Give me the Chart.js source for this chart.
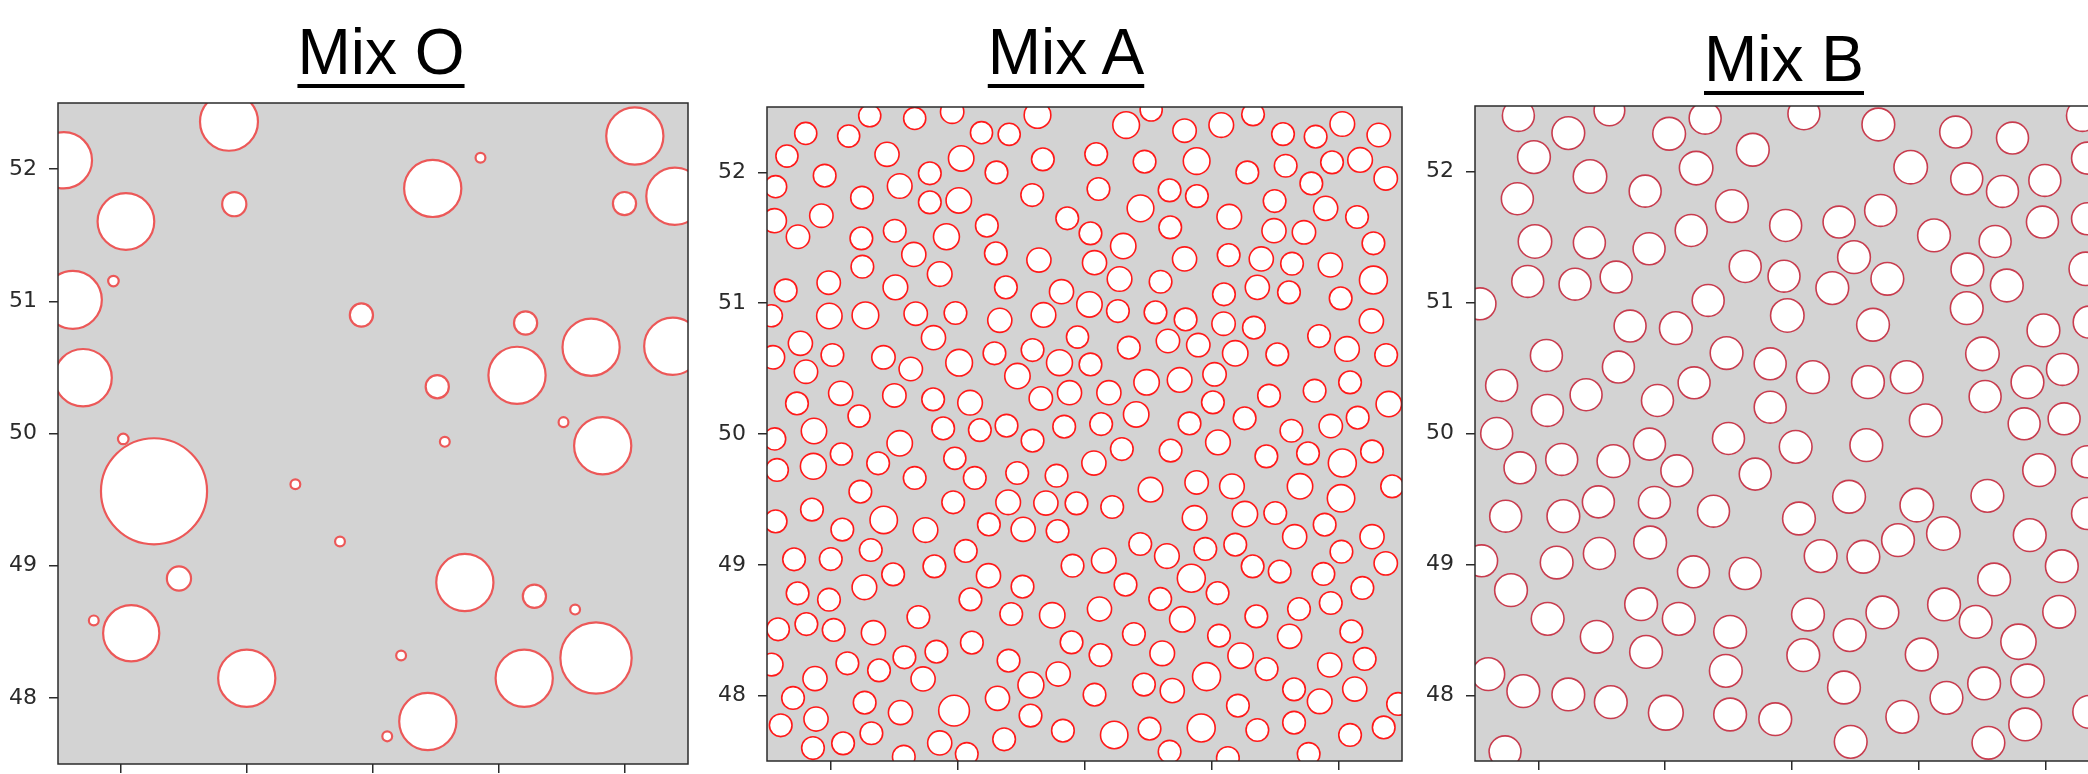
<!DOCTYPE html>
<html>
<head>
<meta charset="utf-8">
<script src="https://cdn.jsdelivr.net/npm/chart.js"></script>
<style>
    html, body { margin: 0; padding: 0; background: #fff; width: 2088px; height: 774px; overflow: hidden; }
    body { position: relative; }
    .panel { position: absolute; }
    .titulo {
        position: absolute;
        font-family: "Liberation Sans", Arial, sans-serif;
        font-size: 64px;
        line-height: 64px;
        color: #000;
        white-space: nowrap;
        text-decoration: underline;
        text-decoration-thickness: 4px;
        text-underline-offset: 10px;
        transform: translateX(-50%);
    }
</style>
</head>
<body>
<div class="titulo" style="left:381px; top:20px">Mix O</div>
<div class="titulo" style="left:1066px; top:20px">Mix A</div>
<div class="titulo" style="left:1784px; top:27px">Mix B</div>

<div class="panel" style="left:-12px; top:93px"><canvas id="mixOChart" width="710" height="685"></canvas></div>
<div class="panel" style="left:697px; top:97px"><canvas id="mixAChart" width="715" height="678"></canvas></div>
<div class="panel" style="left:1405px; top:96px"><canvas id="mixBChart" width="714" height="679"></canvas></div>

<script>
// ejes (coordenadas en ambas direcciones)
const xTicks = [48, 49, 50, 51, 52];
const yTicks = [48, 49, 50, 51, 52];
const rangoMin = 47.5;
const rangoMax = 52.5;

// [x, y, radio] en unidades del eje
const mixO = [
    [47.547,52.067,0.223],[48.857,52.358,0.230],[48.039,51.604,0.225],[48.899,51.735,0.096],[47.94,51.153,0.042],
    [47.618,51.011,0.23],[47.699,50.422,0.228],[48.018,49.959,0.042],[48.262,49.563,0.421],[48.46,48.903,0.096],
    [47.784,48.586,0.039],[48.081,48.489,0.223],[48.998,48.149,0.227],[49.908,50.896,0.092],[49.384,49.616,0.039],
    [49.738,49.183,0.039],[50.223,48.321,0.039],[50.113,47.709,0.039],[50.435,47.821,0.227],[50.474,51.854,0.227],
    [50.853,52.086,0.039],[50.51,50.354,0.092],[50.57,49.937,0.039],[51.211,50.836,0.092],[51.143,50.44,0.227],
    [51.731,50.653,0.227],[51.512,50.086,0.039],[51.823,49.907,0.227],[50.729,48.873,0.227],[51.281,48.769,0.092],
    [51.604,48.668,0.039],[51.77,48.302,0.283],[51.2,48.149,0.227],[52.078,52.25,0.227],[51.996,51.739,0.092],
    [52.396,51.795,0.227],[52.379,50.66,0.227]
];

const mixA = [
    [48.309,52.433,.087],[48.663,52.413,.087],[48.958,52.464,.092],[49.630,52.439,.105],[47.805,52.298,.087],[48.143,52.278,.087],
    [49.189,52.304,.087],[49.407,52.291,.087],[47.657,52.125,.087],[48.445,52.138,.095],[49.029,52.107,.1],[49.672,52.100,.089],
    [47.954,51.975,.089],[48.782,51.993,.089],[49.307,52.000,.089],[47.568,51.891,.087],[48.545,51.896,.097],[48.248,51.807,.089],
    [48.782,51.771,.089],[49.010,51.786,.1],[49.588,51.827,.089],[47.558,51.631,.095],[47.928,51.669,.092],[49.864,51.649,.089],
    [47.744,51.508,.092],[48.243,51.496,.089],[48.506,51.554,.089],[48.913,51.508,.102],[49.231,51.593,.089],[48.656,51.373,.095],
    [49.302,51.381,.089],[49.641,51.330,.095],[48.251,51.279,.089],[48.860,51.223,.097],[47.647,51.098,.089],[47.986,51.157,.092],
    [48.511,51.121,.097],[49.381,51.121,.089],[49.819,51.088,.095],[47.534,50.904,.087],[47.991,50.902,.1],[48.275,50.907,.105],
    [48.671,50.920,.092],[48.984,50.925,.089],[49.333,50.869,.095],[49.677,50.910,.097],[47.763,50.693,.095],[48.811,50.736,.095],
    [49.945,50.741,.087],[47.547,50.586,.092],[48.015,50.604,.089],[48.417,50.586,.092],[49.013,50.545,.105],[49.291,50.617,.089],
    [49.591,50.642,.089],[49.803,50.545,.102],[47.807,50.476,.092],[48.632,50.497,.092],[49.472,50.443,.1],[48.080,50.311,.095],
    [48.503,50.295,.092],[48.808,50.265,.089],[49.099,50.239,.097],[49.656,50.272,.092],[49.882,50.316,.095],[47.736,50.234,.089],
    [48.225,50.137,.087],[47.870,50.023,.1],[48.887,50.043,.089],[49.176,50.030,.089],[49.386,50.064,.089],[49.840,50.056,.089],
    [47.560,49.962,.087],[48.545,49.929,.1],[49.591,49.949,.089],[47.579,49.725,.089],[47.865,49.753,.102],[48.086,49.847,.087],
    [48.375,49.776,.089],[48.663,49.664,.089],[48.979,49.814,.087],[49.136,49.664,.089],[49.470,49.702,.089],[49.780,49.681,.089],
    [48.235,49.559,.089],[48.966,49.478,.089],[49.399,49.478,.097],[49.696,49.472,.095],[49.937,49.470,.089],[47.854,49.422,.089],
    [47.568,49.332,.089],[48.093,49.269,.089],[48.419,49.343,.108],[48.748,49.266,.097],[49.247,49.309,.089],[49.517,49.271,.095],
    [49.788,49.258,.089],[48.317,49.113,.089],[47.713,49.042,.089],[48.002,49.044,.089],[49.065,49.106,.089],[48.493,48.927,.089],
    [48.818,48.988,.089],[49.906,48.993,.089],[49.244,48.917,.095],[48.267,48.828,.097],[47.741,48.782,.089],[47.988,48.733,.089],
    [49.512,48.833,.089],[49.102,48.736,.089],[48.692,48.601,.089],[49.423,48.624,.089],[49.746,48.614,.1],[47.587,48.507,.089],
    [47.810,48.547,.089],[48.025,48.502,.089],[48.338,48.481,.095],[49.113,48.405,.089],[49.898,48.407,.089],[47.537,48.237,.089],
    [48.133,48.247,.089],[48.582,48.293,.089],[48.834,48.336,.089],[48.382,48.193,.089],[49.402,48.267,.089],[47.878,48.130,.095],
    [48.729,48.127,.095],[49.578,48.081,.102],[49.793,48.165,.095],[47.705,47.982,.089],[48.269,47.946,.089],[48.973,47.885,.121],
    [49.315,47.979,.095],[48.551,47.870,.095],[47.608,47.773,.089],[47.886,47.821,.095],[48.322,47.712,.089],[49.575,47.847,.089],
    [49.830,47.732,.089],[47.862,47.599,.089],[48.099,47.635,.089],[48.577,47.533,.089],[48.860,47.638,.095],[49.073,47.554,.089],
    [49.367,47.666,.089],
    [50.525,52.477,.087],[50.328,52.362,.105],[50.788,52.319,.092],[51.077,52.362,.097],[51.327,52.444,.089],[51.563,52.293,.089],
    [51.820,52.273,.089],[52.030,52.370,.097],[52.317,52.286,.092],[50.092,52.140,.089],[50.473,52.082,.089],[50.883,52.087,.105],
    [51.282,52.000,.089],[51.584,52.051,.089],[51.949,52.077,.089],[52.170,52.095,.097],[52.372,51.954,.092],[50.110,51.873,.089],
    [50.670,51.863,.089],[50.885,51.819,.089],[51.786,51.916,.089],[50.441,51.725,.105],[51.497,51.781,.089],[51.899,51.725,.095],
    [51.140,51.661,.097],[52.146,51.659,.089],[50.675,51.580,.089],[50.047,51.534,.089],[51.492,51.554,.095],[51.728,51.542,.092],
    [50.305,51.437,.1],[52.275,51.458,.089],[51.135,51.368,.089],[50.079,51.310,.095],[50.788,51.338,.095],[51.392,51.338,.095],
    [51.634,51.302,.089],[51.936,51.292,.095],[50.276,51.185,.097],[50.599,51.164,.089],[52.275,51.177,.11],[51.361,51.121,.095],
    [51.098,51.068,.089],[51.610,51.083,.089],[50.039,50.991,.1],[50.263,50.940,.089],[50.559,50.930,.089],[52.017,51.037,.089],
    [50.796,50.876,.089],[51.095,50.843,.092],[51.334,50.813,.089],[52.259,50.864,.095],[50.349,50.660,.089],[50.657,50.711,.092],
    [50.896,50.680,.092],[51.187,50.617,.1],[51.518,50.609,.089],[51.847,50.749,.089],[52.067,50.650,.097],[52.375,50.604,.089],
    [50.047,50.532,.089],[50.192,50.316,.095],[50.489,50.395,.1],[50.749,50.413,.097],[51.024,50.456,.092],[51.011,50.242,.089],
    [51.453,50.293,.089],[51.812,50.331,.089],[52.091,50.395,.089],[52.396,50.229,.1],[50.131,50.076,.089],[50.407,50.150,.1],
    [50.827,50.081,.089],[51.261,50.120,.089],[52.151,50.125,.089],[51.939,50.061,.092],[51.629,50.025,.089],
    [51.051,49.936,.097],[50.294,49.885,.089],[50.074,49.778,.095],[50.678,49.873,.089],[51.432,49.829,.089],[51.760,49.852,.089],
    [52.030,49.778,.11],[52.264,49.867,.089],[50.520,49.574,.097],[50.883,49.630,.092],[51.161,49.600,.097],[51.697,49.600,.1],
    [52.422,49.600,.089],[50.218,49.442,.089],[50.867,49.358,.097],[51.263,49.388,.1],[51.502,49.396,.089],[52.020,49.508,.108],
    [51.891,49.307,.089],[51.655,49.215,.095],[52.264,49.215,.095],[50.439,49.159,.089],[50.649,49.067,.097],[50.951,49.121,.089],
    [51.187,49.154,.089],[50.152,49.032,.097],[52.023,49.100,.089],[52.372,49.011,.092],[50.841,48.897,.11],[51.324,48.988,.089],
    [51.537,48.948,.089],[51.881,48.930,.089],[50.323,48.848,.089],[52.188,48.823,.089],[51.048,48.784,.089],[50.596,48.739,.089],
    [50.118,48.662,.095],[50.770,48.583,.1],[51.353,48.606,.089],[51.689,48.662,.089],[51.939,48.708,.089],[50.389,48.471,.089],
    [51.059,48.458,.089],[51.615,48.453,.095],[52.101,48.491,.089],[50.126,48.310,.089],[50.612,48.323,.097],[51.229,48.305,.1],
    [51.434,48.203,.089],[51.931,48.234,.095],[52.206,48.280,.089],[50.961,48.145,.11],[50.468,48.084,.089],[50.691,48.038,.095],
    [50.079,48.007,.089],[51.650,48.048,.089],[52.128,48.050,.095],[51.852,47.956,.097],[51.208,47.923,.089],[52.469,47.936,.089],
    [50.234,47.699,.108],[50.512,47.747,.089],[50.919,47.752,.11],[51.361,47.737,.089],[51.650,47.793,.089],[52.091,47.699,.089],
    [52.356,47.757,.089],[50.670,47.571,.089],[51.129,47.523,.089],[51.765,47.554,.089]
];

const mixB = [
    [47.842,52.428,.126],[48.560,52.466,.121],[49.315,52.407,.126],[48.236,52.293,.129],[49.031,52.288,.129],[47.965,52.110,.129],
    [49.691,52.166,.129],[48.407,51.962,.132],[49.244,52.026,.132],[48.842,51.850,.126],[47.834,51.792,.126],[49.526,51.736,.129],
    [47.973,51.466,.132],[48.402,51.456,.126],[49.205,51.550,.126],[48.873,51.410,.126],[47.916,51.161,.126],[48.289,51.140,.126],
    [48.613,51.194,.126],[49.631,51.275,.126],[47.539,50.990,.126],[49.339,51.016,.126],[48.723,50.820,.126],[49.084,50.804,.129],
    [48.063,50.596,.126],[49.484,50.614,.129],[48.631,50.507,.126],[47.710,50.367,.126],[48.376,50.296,.126],[49.228,50.387,.126],
    [48.071,50.176,.126],[48.939,50.252,.126],[49.828,50.532,.126],[49.828,50.201,.126],[47.671,50.000,.126],
    [50.094,52.441,.126],[50.681,52.359,.129],[51.291,52.301,.126],[51.739,52.255,.126],[52.291,52.428,.126],[50.936,52.033,.132],
    [51.378,51.944,.126],[51.660,51.848,.126],[51.994,51.932,.126],[52.331,52.102,.126],[50.699,51.703,.126],[50.371,51.614,.126],
    [49.950,51.588,.126],[51.120,51.512,.129],[51.975,51.614,.126],[52.331,51.639,.126],[51.602,51.466,.126],[50.489,51.346,.129],
    [49.937,51.201,.126],[50.752,51.181,.129],[51.383,51.252,.129],[52.317,51.257,.132],[50.318,51.110,.129],[51.694,51.130,.129],
    [49.963,50.901,.132],[51.378,50.957,.129],[50.639,50.830,.129],[52.344,50.850,.126],[51.983,50.787,.129],[51.502,50.608,.132],
    [50.165,50.430,.129],[50.599,50.392,.129],[50.905,50.430,.129],[51.857,50.392,.129],[52.133,50.489,.126],[51.523,50.283,.126],
    [51.055,50.100,.129],[51.831,50.074,.126],[52.146,50.112,.126],
    [48.876,49.919,.126],[49.499,49.962,.126],[47.855,49.738,.126],[48.184,49.802,.126],[48.592,49.789,.129],[49.092,49.715,.126],
    [49.710,49.690,.126],[47.742,49.369,.126],[48.197,49.369,.129],[48.473,49.478,.126],[48.915,49.473,.126],[49.381,49.407,.126],
    [48.881,49.168,.129],[47.552,49.028,.126],[48.144,49.015,.129],[48.481,49.084,.126],[49.223,48.944,.126],[49.631,48.931,.126],
    [47.784,48.804,.129],[48.810,48.697,.129],[48.073,48.585,.129],[49.107,48.585,.129],[48.460,48.448,.129],[49.512,48.486,.129],
    [48.849,48.333,.129],[47.605,48.163,.129],[49.478,48.188,.129],[47.881,48.033,.129],[48.236,48.008,.129],[48.571,47.949,.129],
    [49.005,47.868,.137],[49.512,47.855,.129],[49.868,47.819,.129],[47.737,47.570,.126],
    [50.029,49.898,.129],[50.586,49.911,.129],[51.949,49.720,.129],[52.331,49.784,.126],[50.450,49.517,.129],[50.984,49.453,.132],
    [51.541,49.524,.129],[50.055,49.351,.129],[52.331,49.389,.126],[50.836,49.186,.129],[51.194,49.237,.132],[51.875,49.224,.129],
    [50.226,49.064,.129],[50.563,49.059,.129],[52.128,48.987,.129],[51.594,48.886,.129],[50.126,48.618,.129],[50.713,48.634,.129],
    [51.199,48.695,.129],[52.107,48.639,.129],[51.449,48.562,.129],[50.455,48.461,.129],[51.786,48.410,.139],[50.089,48.308,.129],
    [51.023,48.313,.129],[50.410,48.061,.129],[51.515,48.092,.129],[51.857,48.112,.132],[51.218,47.982,.129],[50.870,47.837,.129],
    [51.839,47.779,.129],[52.344,47.875,.129],[50.463,47.646,.129],[51.549,47.639,.129]
];

// fondo gris y marco del area de datos
const marcoGris = {
    id: 'marcoGris',
    beforeDraw(chart) {
        const a = chart.chartArea;
        const ctx = chart.ctx;
        ctx.save();
        ctx.fillStyle = '#d3d3d3';
        ctx.fillRect(a.left, a.top, a.right - a.left, a.bottom - a.top);
        ctx.restore();
    },
    afterDatasetsDraw(chart) {
        const a = chart.chartArea;
        const ctx = chart.ctx;
        ctx.save();
        ctx.strokeStyle = '#2b2b2b';
        ctx.lineWidth = 1.5;
        ctx.strokeRect(a.left, a.top, a.right - a.left, a.bottom - a.top);
        ctx.restore();
    }
};

// radio en pixeles a partir del radio en unidades del eje x
function radioPx(ctx) {
    const p = ctx.raw;
    if (!p || p.rad === undefined) return 0;
    const sx = ctx.chart.scales.x;
    if (!sx) return 0;
    return Math.abs(sx.getPixelForValue(p.x + p.rad) - sx.getPixelForValue(p.x)) || 0;
}

function sinRelleno(axis) {
    axis.paddingTop = 0;
    axis.paddingBottom = 0;
    axis.paddingLeft = 0;
    axis.paddingRight = 0;
}

function crearPanel(id, circulos, colorBorde, anchoBorde) {
    const canvas = document.getElementById(id);
    if (!canvas) return;
    try {
        new Chart(canvas, {
            type: 'scatter',
            data: {
                datasets: [{
                    data: circulos.map(c => ({ x: c[0], y: c[1], rad: c[2] })),
                    showLine: false,
                    pointBackgroundColor: '#ffffff',
                    pointBorderColor: colorBorde,
                    pointBorderWidth: anchoBorde,
                    pointRadius: radioPx,
                    pointHoverRadius: radioPx,
                    clip: 0
                }]
            },
            options: {
                responsive: false,
                animation: false,
                devicePixelRatio: 1,
                events: [],
                layout: { autoPadding: false, padding: { left: 0, top: 10, right: 10, bottom: 0 } },
                plugins: {
                    legend: { display: false },
                    tooltip: { enabled: false }
                },
                scales: {
                    x: {
                        type: 'linear',
                        min: rangoMin,
                        max: rangoMax,
                        afterBuildTicks: axis => { axis.ticks = xTicks.map(v => ({ value: v })); },
                        afterFit: axis => { axis.height = 14; sinRelleno(axis); },
                        ticks: { display: false },
                        border: { display: false },
                        grid: { drawOnChartArea: false, drawTicks: true, tickLength: 9, color: '#2b2b2b', lineWidth: 1.5 }
                    },
                    y: {
                        type: 'linear',
                        min: rangoMin,
                        max: rangoMax,
                        afterBuildTicks: axis => { axis.ticks = yTicks.map(v => ({ value: v })); },
                        afterFit: axis => { axis.width = 70; sinRelleno(axis); },
                        ticks: {
                            padding: 12,
                            color: '#2a2a2a',
                            font: { family: '"DejaVu Sans", sans-serif', size: 22 }
                        },
                        border: { display: false },
                        grid: { drawOnChartArea: false, drawTicks: true, tickLength: 9, color: '#2b2b2b', lineWidth: 1.5 }
                    }
                }
            },
            plugins: [marcoGris]
        });
    } catch (e) {
        console.error('Error dibujando ' + id + ':', e);
    }
}

crearPanel('mixOChart', mixO, 'rgb(236, 88, 88)', 2.2);
crearPanel('mixAChart', mixA, 'rgb(255, 25, 25)', 1.6);
crearPanel('mixBChart', mixB, 'rgb(200, 60, 78)', 1.6);
</script>
</body>
</html>
